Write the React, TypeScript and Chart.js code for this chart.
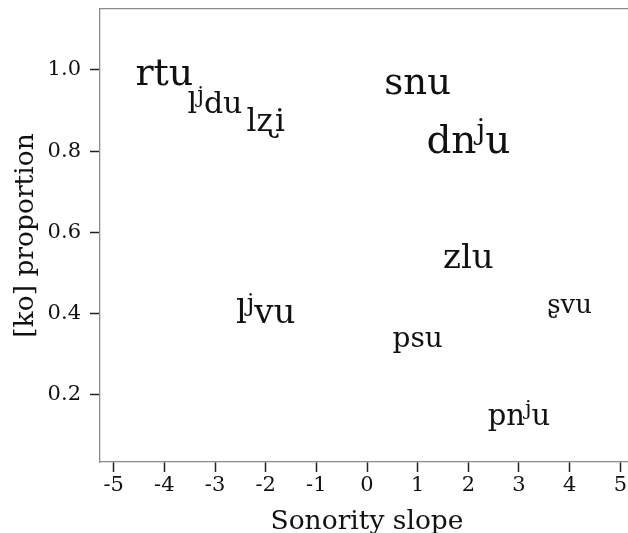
import React, { useEffect, useRef } from "react";
import { Chart, registerables } from "chart.js";

Chart.register(...registerables);

// Data ("^" marks a superscript letter)
const words = ["rtu", "l^jdu", "lʐi", "snu", "dn^ju", "zlu", "l^jvu", "ʂvu", "psu", "pn^ju"];
const sonoritySlope = [-4, -3, -2, 1, 2, 2, -2, 4, 1, 3];
const koProportion = [0.99, 0.915, 0.87, 0.966, 0.823, 0.537, 0.4, 0.42, 0.337, 0.145];
const wordWeight = [38, 30, 31, 37, 39, 34, 34, 26, 28, 29];

const xTickValues = [-5, -4, -3, -2, -1, 0, 1, 2, 3, 4, 5];
const yTickValues = [0.2, 0.4, 0.6, 0.8, 1.0];

const FONT = "'DejaVu Serif', serif";
const AXIS_GRAY = "#8c8c8c";
const INK = "#111";

type Seg = { text: string; sup: boolean };
function parseWord(w: string): Seg[] {
  const segs: Seg[] = [];
  let i = 0;
  let buf = "";
  while (i < w.length) {
    if (w[i] === "^" && i + 1 < w.length) {
      if (buf) segs.push({ text: buf, sup: false });
      buf = "";
      segs.push({ text: w[i + 1], sup: true });
      i += 2;
    } else {
      buf += w[i];
      i += 1;
    }
  }
  if (buf) segs.push({ text: buf, sup: false });
  return segs;
}

const wordLabels = {
  id: "wordLabels",
  afterDatasetsDraw(chart: any) {
    const { ctx } = chart;
    const meta = chart.getDatasetMeta(0);
    ctx.save();
    ctx.fillStyle = INK;
    ctx.textAlign = "left";
    ctx.textBaseline = "alphabetic";
    meta.data.forEach((pt: any, i: number) => {
      const f = wordWeight[i];
      const segs = parseWord(words[i]);
      const fontFor = (s: Seg) => `${s.sup ? f * 0.72 : f}px ${FONT}`;
      let total = 0;
      const widths = segs.map((s) => {
        ctx.font = fontFor(s);
        const w = ctx.measureText(s.text).width;
        total += w;
        return w;
      });
      let x = pt.x - total / 2;
      const base = pt.y + 0.28 * f;
      segs.forEach((s, k) => {
        ctx.font = fontFor(s);
        ctx.fillText(s.text, x, s.sup ? base - 0.36 * f : base);
        x += widths[k];
      });
    });
    ctx.restore();
  },
};

export default function App() {
  const ref = useRef<HTMLCanvasElement>(null);

  useEffect(() => {
    if (!ref.current) return;
    const chart = new Chart(ref.current, {
      type: "scatter",
      data: {
        datasets: [
          {
            data: words.map((_, i) => ({ x: sonoritySlope[i], y: koProportion[i] })),
            pointRadius: 0,
            pointHoverRadius: 0,
            showLine: false,
          },
        ],
      },
      options: {
        animation: false,
        responsive: false,
        events: [],
        layout: { padding: 0 },
        plugins: { legend: { display: false }, tooltip: { enabled: false } },
        scales: {
          x: {
            type: "linear",
            position: "bottom",
            min: -5.27,
            max: 5.27,
            afterBuildTicks: (s: any) => {
              s.ticks = xTickValues.map((v) => ({ value: v }));
            },
            afterFit: (s: any) => {
              s.height = 71;
              s.paddingLeft = 0;
              s.paddingRight = 0;
            },
            grid: {
              display: true,
              drawOnChartArea: false,
              drawTicks: true,
              tickLength: 10,
              tickColor: "#222",
              tickWidth: 1.5,
            },
            border: { display: true, color: AXIS_GRAY, width: 1.3 },
            ticks: {
              color: INK,
              font: { family: FONT, size: 21 },
              padding: 1,
              maxRotation: 0,
              autoSkip: false,
              callback: (v: any) => String(v),
            },
            title: {
              display: true,
              text: "Sonority slope",
              color: INK,
              font: { family: FONT, size: 26.5, lineHeight: 1 },
              padding: { top: 0, bottom: -2 },
            },
          },
          x2: {
            type: "linear",
            position: "top",
            min: -5.27,
            max: 5.27,
            afterFit: (s: any) => {
              s.height = 9;
              s.paddingLeft = 0;
              s.paddingRight = 0;
            },
            ticks: { display: false },
            grid: { display: true, drawOnChartArea: false, drawTicks: false },
            border: { display: true, color: AXIS_GRAY, width: 1.3 },
          },
          y: {
            type: "linear",
            position: "left",
            min: 0.035,
            max: 1.15,
            afterBuildTicks: (s: any) => {
              s.ticks = yTickValues.map((v) => ({ value: v }));
            },
            afterFit: (s: any) => {
              s.width = 100;
              s.paddingTop = 0;
              s.paddingBottom = 0;
            },
            grid: {
              display: true,
              drawOnChartArea: false,
              drawTicks: true,
              tickLength: 10,
              tickColor: "#222",
              tickWidth: 1.5,
            },
            border: { display: true, color: AXIS_GRAY, width: 1.3 },
            ticks: {
              color: INK,
              font: { family: FONT, size: 21 },
              padding: 9,
              autoSkip: false,
              callback: (v: any) => Number(v).toFixed(1),
            },
            title: {
              display: true,
              text: "[ko] proportion",
              color: INK,
              font: { family: FONT, size: 26.5, lineHeight: 1.2 },
              padding: { top: 10, bottom: 0 },
            },
          },
        },
      } as any,
      plugins: [wordLabels],
    });
    return () => chart.destroy();
  }, []);

  return (
    <div
      style={{
        position: "fixed",
        left: 0,
        top: 0,
        width: 628,
        height: 533,
        overflow: "hidden",
        background: "#fff",
      }}
    >
      <canvas ref={ref} width={634} height={533} style={{ display: "block" }} />
    </div>
  );
}
